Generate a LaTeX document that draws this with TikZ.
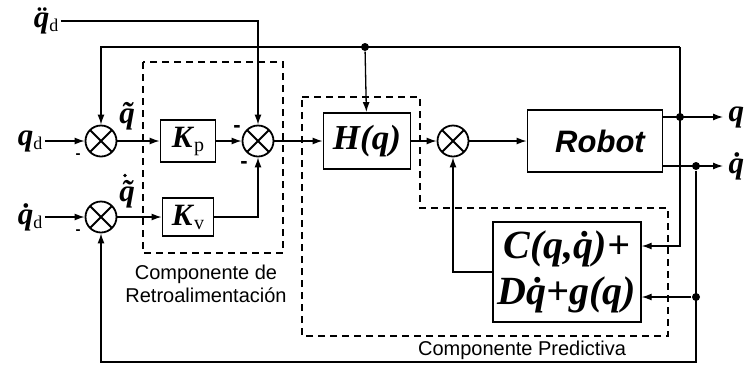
\documentclass[tikz,border=0pt]{standalone}
\usepackage{fontspec}
\setmainfont{Liberation Serif}
\setsansfont{Liberation Sans}
\usetikzlibrary{arrows.meta}

\newcommand{\bq}{\textbf{\textit{q}}}
\newcommand{\subtxt}[2][18]{\raisebox{-4pt}{\mdseries\upshape\fontsize{#1}{#1}\selectfont #2}}

\begin{document}
\begin{tikzpicture}[x=1pt,y=-1pt,>={Latex[length=10pt,width=7pt]},line width=1.3pt,
                    sum node/.style={circle,draw,line width=1.8pt,minimum size=31pt,inner sep=0pt,
                      path picture={\draw[line width=1.8pt]
                        (path picture bounding box.south west) -- (path picture bounding box.north east)
                        (path picture bounding box.north west) -- (path picture bounding box.south east);}},
                    block/.style={draw,line width=1.8pt,inner sep=0pt},
                    sig/.style={inner sep=2pt,font=\fontsize{31}{31}\selectfont\bfseries\itshape},
                    minus sign/.style={inner sep=0pt,font=\sffamily\bfseries\fontsize{22}{22}\selectfont},
                    junction/.style={circle,fill,inner sep=0pt,minimum size=8pt},
                    region/.style={line width=1.1pt,dash pattern=on 7pt off 5pt},
                    caption/.style={font=\sffamily\fontsize{20}{23}\selectfont,align=center}]
  \useasboundingbox (0,0) rectangle (749,365);

  % dashed regions
  \draw[region] (143,62) rectangle (283,253);
  \draw[region] (302,97) -- (420,97) -- (420,208) -- (668,208) -- (668,336) -- (302,336) -- cycle;
  \node[caption] (retro) at (206,284) {Componente de\\Retroalimentación};
  \node[caption,anchor=base] (pred) at (522,355) {Componente Predictiva};

  % summing junctions
  \node[sum node] (s1) at (101,141) {};
  \node[sum node] (s2) at (258,141) {};
  \node[sum node] (s3) at (101,217) {};
  \node[sum node] (s4) at (453,141) {};

  % blocks
  \node[block,minimum width=55pt,minimum height=42pt] (kp) at (188,141)
    {\fontsize{31}{31}\selectfont\textbf{\textit{K}}\subtxt[20]{p}};
  \node[block,minimum width=51pt,minimum height=38pt] (kv) at (188,217)
    {\fontsize{31}{31}\selectfont\textbf{\textit{K}}\subtxt[20]{v}};
  \node[block,minimum width=87pt,minimum height=56pt,font=\fontsize{35}{35}\selectfont\bfseries\itshape] (h) at (367,141) {H(q)};
  \node[block,minimum width=135pt,minimum height=62pt,font=\sffamily\bfseries\itshape\fontsize{31}{31}\selectfont] (robot) at (595,141)
    {\hspace*{10pt}Robot};
  \node[block,line width=1.3pt,minimum width=148pt,minimum height=100pt,align=center,
        font=\fontsize{40}{46}\selectfont\bfseries\itshape] (c) at (567,272)
    {C(q,q^^^^0307)+\\Dq^^^^0307+g(q)};

  % inputs
  \node[sig] (qdd) at (46,21) {q^^^^0308\subtxt{d}};
  \node[sig] (qd) at (30,141) {\bq\subtxt{d}};
  \node[sig] (qdot) at (30,217) {q^^^^0307\subtxt{d}};
  \node[sig] (qt) at (127,116) {q^^^^0303};
  \node[sig] (qtd) at (127,194) {q^^^^0303};
  \fill (qtd.north) ++(-2,-2) circle (1.8pt);

  % outputs and branch points
  \coordinate (qout) at (723,117);
  \coordinate (qdout) at (723,166);
  \node[junction] (jq) at (680,117) {};
  \node[junction] (jqd) at (696,166) {};
  \node[junction] (jtop) at (365,47) {};
  \node[junction] (jc) at (696,297) {};
  \coordinate (tr) at (680,47);
  \coordinate (cq) at (680,246);
  \coordinate (br) at (696,362);
  \node[sig,anchor=west] (qlbl) at (726,117) {q};
  \node[sig,anchor=west] (qdlbl) at (726,166) {q^^^^0307};

  % signal paths
  \draw[->] (qd) -- (s1);
  \draw[->] (qdot) -- (s3);
  \draw[->] (qdd) -- (qdd -| s2) -- (s2);
  \draw[->] (s1) -- (kp);
  \draw[->] (s3) -- (kv);
  \draw[->] (kp) -- (s2);
  \draw[->] (kv) -| (s2);
  \draw[->] (s2) -- (h);
  \draw[->] (h) -- (s4);
  \draw[->] (s4) -- (robot);
  \draw[->] (robot.east |- jq) -- (qout);
  \draw[->] (robot.east |- jqd) -- (qdout);
  \draw[->] (tr) -- (tr -| s1) -- (s1);
  \draw[->] (jtop) -- (h);
  \draw[->] (tr) -- (cq) -- (cq -| c.east);
  \draw[->] (jc) -- (jc -| c.east);
  \draw[->] (jqd) -- (br) -- (br -| s3) -- (s3);
  \draw[->] (c.west) -- (c.west -| s4) -- (s4);

  % signs
  \node[minus sign,font=\sffamily\bfseries\fontsize{15}{15}\selectfont] (m1) at (78,156) {-};
  \node[minus sign,font=\sffamily\bfseries\fontsize{15}{15}\selectfont] (m3) at (78,232) {-};
  \node[minus sign] (m2a) at (237,129) {-};
  \node[minus sign] (m2b) at (244,165) {-};
\end{tikzpicture}
\end{document}
